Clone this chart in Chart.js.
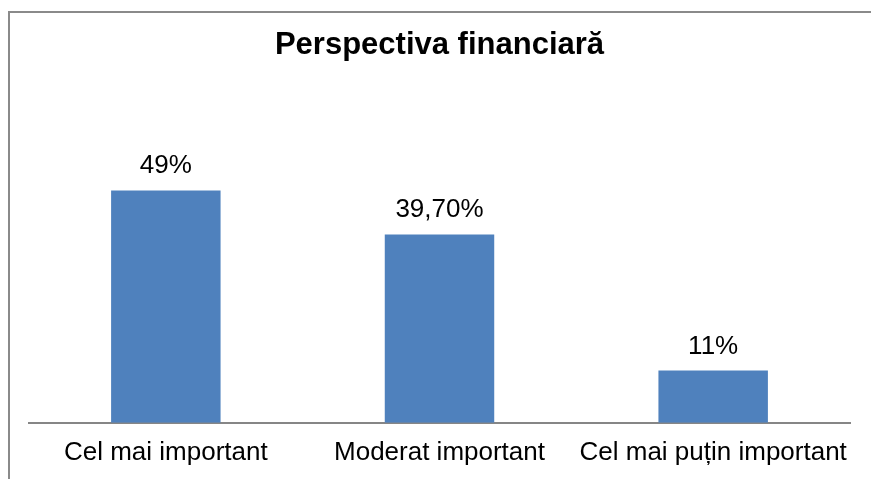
<!DOCTYPE html>
<html>
<head>
<meta charset="utf-8">
<script src="https://cdn.jsdelivr.net/npm/chart.js@4"></script>
<style>
html,body{margin:0;padding:0;background:#fff;overflow:hidden;}
#wrap{width:871px;height:479px;position:relative;overflow:hidden;}
</style>
</head>
<body>
<div id="wrap"><canvas id="c" width="871" height="494"></canvas></div>
<script>
const categories = ["Cel mai important", "Moderat important", "Cel mai puțin important"];
const values = [49, 39.7, 11];
const valueLabels = ["49%", "39,70%", "11%"];
const chartTitle = "Perspectiva financiară";

const FONT = "'Liberation Sans', Arial, sans-serif";

const framePlugin = {
  id: 'frame',
  beforeDraw(chart) {
    const ctx = chart.ctx;
    ctx.save();
    ctx.fillStyle = '#fff';
    ctx.fillRect(0, 0, chart.width, chart.height);
    ctx.strokeStyle = '#8a8a8a';
    ctx.lineWidth = 2;
    ctx.strokeRect(9, 12, 1000, 1000);
    ctx.restore();
  }
};

const labelPlugin = {
  id: 'barLabels',
  afterDatasetsDraw(chart) {
    const ctx = chart.ctx;
    const meta = chart.getDatasetMeta(0);
    ctx.save();
    ctx.font = "26px " + FONT;
    ctx.fillStyle = '#000';
    ctx.textAlign = 'center';
    ctx.textBaseline = 'alphabetic';
    meta.data.forEach((bar, i) => {
      ctx.fillText(valueLabels[i], bar.x, bar.y - 17);
    });
    ctx.restore();
  }
};

new Chart(document.getElementById('c'), {
  type: 'bar',
  data: {
    labels: categories,
    datasets: [{
      data: values,
      backgroundColor: '#4F81BD',
      borderWidth: 0,
      categoryPercentage: 1.0,
      barPercentage: 0.4
    }]
  },
  options: {
    responsive: false,
    animation: false,
    devicePixelRatio: 1,
    layout: { padding: { left: 29, right: 21, top: 0, bottom: 12 } },
    plugins: {
      legend: { display: false },
      tooltip: { enabled: false },
      title: {
        display: true,
        text: chartTitle,
        color: '#000',
        font: { family: FONT, size: 31, weight: 'bold', lineHeight: 1.2 },
        padding: { top: 27, bottom: 74 }
      }
    },
    scales: {
      y: {
        display: false,
        min: 0,
        max: 60
      },
      x: {
        grid: { display: false, drawTicks: false },
        border: { display: true, color: '#868686', width: 2 },
        ticks: {
          color: '#000',
          font: { family: FONT, size: 26, lineHeight: 1.2 },
          padding: 14,
          maxRotation: 0,
          autoSkip: false
        }
      }
    }
  },
  plugins: [framePlugin, labelPlugin]
});
</script>
</body>
</html>
